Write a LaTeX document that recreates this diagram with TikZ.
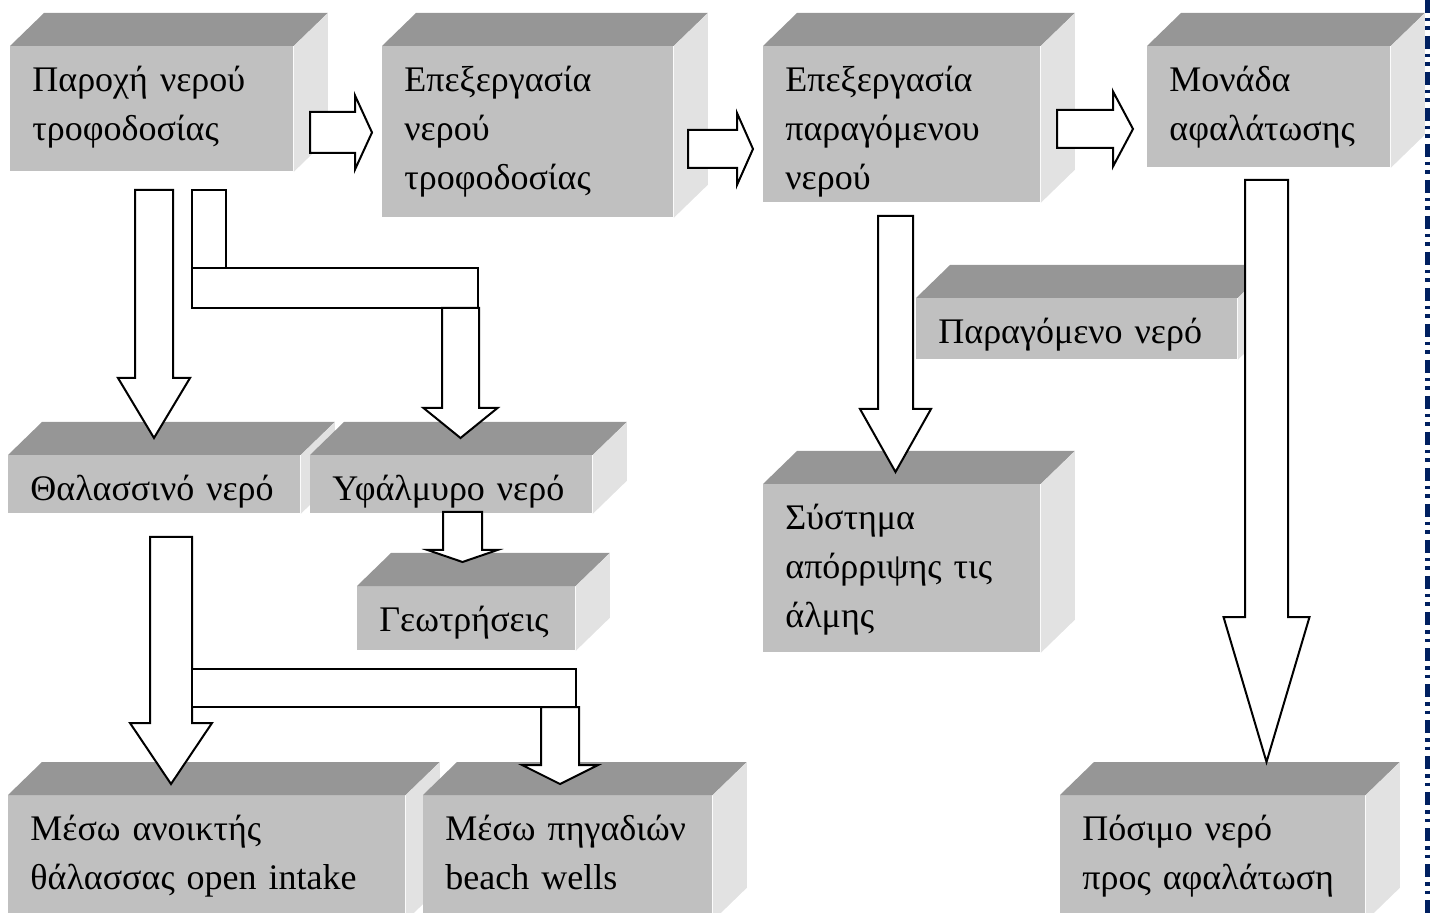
\documentclass[tikz,border=0pt]{standalone}
\usepackage{fontspec}
\setmainfont{Liberation Serif}
\usepackage{tikz}
\usetikzlibrary{calc, positioning}

\definecolor{facefront}{RGB}{192,192,192}
\definecolor{facetop}{RGB}{150,150,150}
\definecolor{faceside}{RGB}{226,226,226}
\definecolor{pagenavy}{RGB}{0,32,96}

\tikzset{
  frontface/.style={fill=facefront, draw=none, anchor=north west, inner sep=0pt},
  topface/.style={fill=facetop},
  sideface/.style={fill=faceside},
  boxtext/.style={anchor=north west, inner sep=0pt, text width=200pt, align=left,
    font=\fontsize{18pt}{24.5pt}\selectfont,
    execute at begin node={\noindent\rule{0pt}{14pt}}},
  fatarrow/.style={draw=black, fill=white, line width=1pt, line join=miter},
  pageborder/.style={pagenavy, line width=2.5pt,
    dash pattern=on 6.5pt off 2.5pt on 1.75pt off 2.5pt on 1.75pt off 3pt}
}

% 3d box: name, x, y, width, height, text
\newcommand\cuboid[6]{%
  \node[frontface, minimum width=#4*0.5pt, minimum height=#5*0.5pt] (#1) at (#2,#3) {};
  \fill[topface] (#1.north west) -- ++(34,-33) -- ([shift={(34,-33)}]#1.north east) -- (#1.north east) -- cycle;
  \fill[sideface] (#1.north east) -- ++(34,-33) -- ([shift={(34,-33)}]#1.south east) -- (#1.south east) -- cycle;
  \node[boxtext] (#1-txt) at ([shift={(22,17)}]#1.north west) {#6};
}

% block arrows: centre, start, head base, tip, shaft half width, head half width
\newcommand\fatdown[6]{%
  \draw[fatarrow] (#1-#5,#2) -- (#1+#5,#2) -- (#1+#5,#3) -- (#1+#6,#3) -- (#1,#4)
    -- (#1-#6,#3) -- (#1-#5,#3) -- cycle;}
\newcommand\fatright[6]{%
  \draw[fatarrow] (#2,#1-#5) -- (#3,#1-#5) -- (#3,#1-#6) -- (#4,#1) -- (#3,#1+#6)
    -- (#3,#1+#5) -- (#2,#1+#5) -- cycle;}

\begin{document}
\begin{tikzpicture}[x=0.5pt, y=-0.5pt]
\useasboundingbox (0,0) rectangle (1433,913);

% --- top row ---
\cuboid{supply}{10}{46}{283}{125}{Παροχή νερού\\τροφοδοσίας}
\cuboid{feedtreat}{382}{46}{291}{171}{Επεξεργασία\\νερού\\τροφοδοσίας}
\cuboid{prodtreat}{763}{46}{277}{156}{Επεξεργασία\\παραγόμενου\\νερού}
\cuboid{desal}{1147}{46}{243}{121}{Μονάδα\\αφαλάτωσης}

% --- middle ---
\cuboid{seawater}{8}{455}{292}{58}{Θαλασσινό νερό}
\cuboid{brackish}{310}{455}{282}{58}{Υφάλμυρο νερό}
\cuboid{boreholes}{357}{586}{218}{64}{Γεωτρήσεις}
\cuboid{product}{916}{298}{321}{61}{Παραγόμενο νερό}
\cuboid{brine}{763}{484}{277}{168}{Σύστημα\\απόρριψης τις\\άλμης}

% --- bottom row ---
\cuboid{openintake}{8}{795}{397}{125}{Μέσω ανοικτής\\θάλασσας open intake}
\cuboid{beachwells}{423}{795}{289}{125}{Μέσω πηγαδιών\\beach wells}
\cuboid{potable}{1060}{795}{305}{125}{Πόσιμο νερό\\προς αφαλάτωση}

% --- arrows along the top ---
\fatright{132.5}{310}{355}{372}{20.5}{37}
\fatright{149}{688}{737}{753}{19}{36}
\fatright{129}{1057}{1113}{1133}{19}{37.5}

% --- supply to seawater / brackish ---
\fatdown{154}{190}{378}{438}{19}{36}
\draw[fatarrow] (192,190) rectangle (226,268);
\draw[fatarrow] (192,268) rectangle (478,308);
\fatdown{460.5}{308}{408}{438}{18.5}{37}
\fatdown{462.5}{512}{550}{562}{19.5}{35}

% --- seawater to intakes ---
\fatdown{171}{537}{723}{784}{21}{41}
\draw[fatarrow] (192,669) rectangle (576,707);
\fatdown{560}{707}{765}{784}{19}{38}

% --- brine and potable water ---
\fatdown{895.5}{216}{409}{472}{17.5}{35.5}
\fatdown{1266.5}{180}{617}{762}{21.5}{43}

% --- page border ---
\draw[pageborder] (1427.5,0) -- (1427.5,913);

\end{tikzpicture}
\end{document}
